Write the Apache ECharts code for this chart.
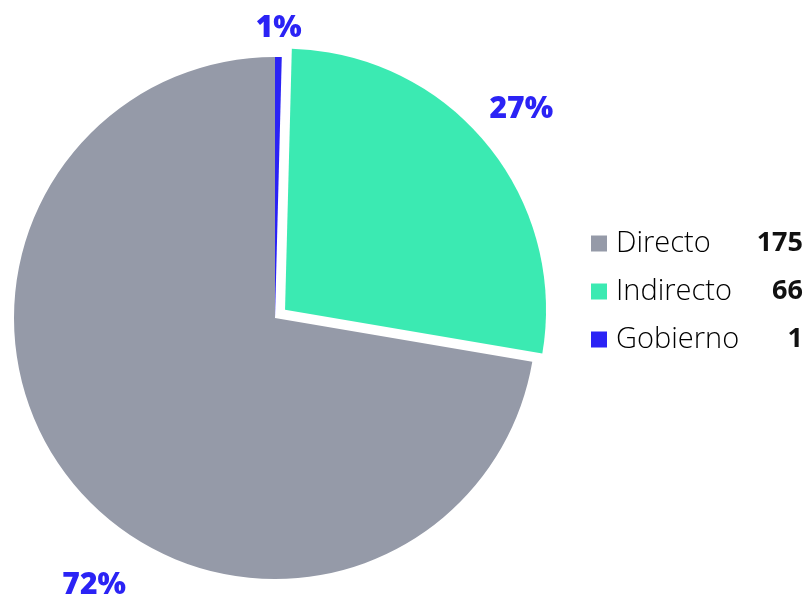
<!DOCTYPE html>
<html>
<head>
<meta charset="utf-8">
<script src="https://cdn.jsdelivr.net/npm/echarts@6/dist/echarts.min.js"></script>
<style>
html,body{margin:0;padding:0;background:#fff;}
#chart{width:806px;height:600px;}
</style>
</head>
<body>
<div id="chart"></div>
<script>
const categories = ['Directo', 'Indirecto', 'Gobierno'];
const values = [175, 66, 1];
const colors = ['#959aa8', '#3beab2', '#2b23f5'];
const labelLineLengths = [62, 50, 29];
const selectedFlags = [false, true, false];

const chart = echarts.init(document.getElementById('chart'), null, {renderer: 'canvas'});

const data = categories.map((name, i) => ({
  name: name,
  value: values[i],
  selected: selectedFlags[i],
  itemStyle: {color: colors[i]},
  labelLine: {show: false, length: labelLineLengths[i], length2: 0}
}));

const valueByName = {};
categories.forEach((c, i) => { valueByName[c] = values[i]; });

chart.setOption({
  animation: false,
  legend: {
    orient: 'vertical',
    left: 586,
    top: 224,
    itemWidth: 16,
    itemHeight: 16,
    itemGap: 19,
    icon: 'rect',
    selectedMode: false,
    data: categories,
    formatter: function (name) {
      return '{n|' + name + '}{v|' + valueByName[name] + '}';
    },
    textStyle: {
      rich: {
        n: {fontFamily: 'Open Sans', fontWeight: 300, fontSize: 29, color: '#000', width: 129, padding: [0, 0, 0, 4], lineHeight: 30},
        v: {fontFamily: 'Open Sans', fontWeight: 'bold', fontSize: 27, color: '#111', width: 58, align: 'right', lineHeight: 30}
      }
    }
  },
  series: [{
    type: 'pie',
    center: [275, 318],
    radius: 261,
    startAngle: 90,
    clockwise: false,
    selectedMode: 'single',
    selectedOffset: 13,
    avoidLabelOverlap: false,
    percentPrecision: 0,
    emphasis: {disabled: true},
    label: {
      show: true,
      position: 'outside',
      formatter: '{d}%',
      color: '#2b23f5',
      fontFamily: 'Open Sans',
      fontWeight: 800,
      fontSize: 30,
      distanceToLabelLine: 0
    },
    labelLine: {show: false},
    labelLayout: function (params) {
      const r = {align: 'center', verticalAlign: 'middle'};
      if (params.dataIndex === 0) { r.dx = 66; r.dy = 59; }
      if (params.dataIndex === 1) { r.dx = -4; r.dy = -3; }
      return r;
    },
    data: data
  }]
});
</script>
</body>
</html>
